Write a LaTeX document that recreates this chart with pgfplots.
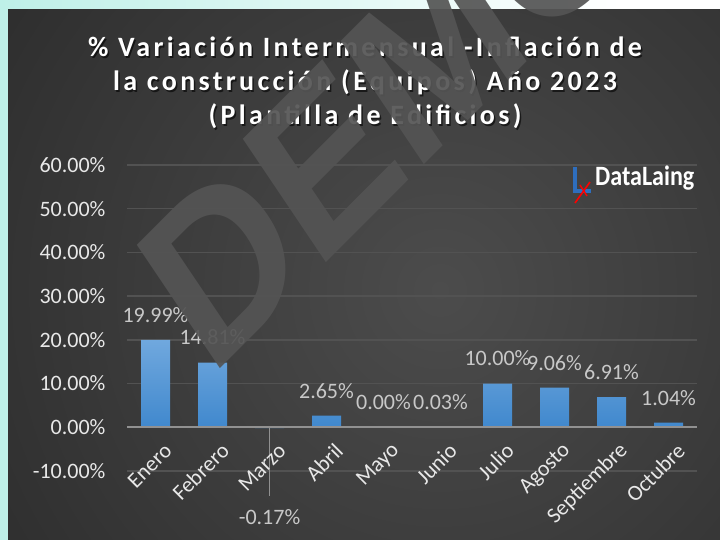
\documentclass[border=0pt]{standalone}
\usepackage{fontspec}
\setmainfont{Carlito}
\newfontfamily\wmfont{Liberation Sans}
\newfontfamily\titlefont[LetterSpace=12]{Carlito}
\usepackage{pgfplots}
\pgfplotsset{compat=1.18}

\definecolor{bgout}{RGB}{36,36,36}
\definecolor{bgin}{RGB}{76,76,76}
\definecolor{strip}{RGB}{190,240,232}
\definecolor{gridc}{RGB}{82,82,82}
\definecolor{zeroc}{RGB}{145,145,145}
\definecolor{tickc}{RGB}{232,232,232}
\definecolor{lblc}{RGB}{200,200,200}
\definecolor{bartop}{RGB}{112,168,222}
\definecolor{barbot}{RGB}{64,136,205}
\definecolor{wmc}{RGB}{84,84,84}
\definecolor{logoblue}{RGB}{46,110,190}

\newcommand{\lblfont}{\fontsize{22}{24}\selectfont}
\tikzset{catlbl/.style={rotate=45, anchor=east, font=\lblfont, text=tickc, xshift=-5pt, yshift=-23pt, inner sep=0pt}}

\begin{document}
\begin{tikzpicture}[x=1pt,y=1pt]
\useasboundingbox (0,0) rectangle (720,539);
\clip (0,0) rectangle (720,539);
% page background
\fill[white] (0,0) rectangle (720,539);
\shade[left color=strip, right color=white] (0,0) rectangle (620,539);
\begin{scope}
  \clip (8,0) rectangle (720,529);
  \fill[bgout] (8,0) rectangle (720,529);
  \shade[inner color=bgin, outer color=bgout] (440,249) circle (700);
\end{scope}

% title
\foreach \yy/\txt in {482/{\% Variación Intermensual -Inflación de},
                      448/{la construcción (Equipos) Año 2023},
                      414/{(Plantilla de Edificios)}}{
  \node[anchor=base, text=black, opacity=0.6, font=\titlefont\bfseries\fontsize{28}{30}\selectfont]
    at (366.5,\yy-1.5) {\txt};
  \node[anchor=base, text=white, font=\titlefont\bfseries\fontsize{28}{30}\selectfont]
    at (365,\yy) {\txt};
}

\begin{axis}[
  at={(127pt,68pt)}, anchor=south west,
  scale only axis, width=570pt, height=306pt,
  xmin=-0.5, xmax=9.5, ymin=-10, ymax=60,
  axis line style={draw=none}, tick style={draw=none},
  xtick=\empty,
  ytick={-10,0,10,20,30,40,50,60},
  ymajorgrids, grid style={gridc, line width=1.5pt},
  /pgf/number format/assume math mode=true,
  yticklabel={\pgfmathprintnumber[fixed,fixed zerofill,precision=2]{\tick}\%},
  yticklabel style={font=\lblfont, text=tickc, xshift=-18pt},
  clip=false,
]
% bars (Mayo = 0.00 has no visible bar)
\addplot[ybar, bar width=29pt, bar shift=0pt, draw=none,
  top color=bartop, bottom color=barbot] coordinates {
  (0,19.99) (1,14.81) (2,-0.17) (3,2.65) (5,0.03)
  (6,10.00) (7,9.06) (8,6.91) (9,1.04)
};
% data labels
\addplot[draw=none, mark=none, point meta=y,
  nodes near coords={\pgfmathprintnumber[fixed,fixed zerofill,precision=2]{\pgfplotspointmeta}\%},
  nodes near coords style={anchor=center, yshift=25pt, font=\lblfont, text=lblc}] coordinates {
  (0,19.99) (1,14.81) (3,2.65) (4,0.00) (5,0.03)
  (6,10.00) (7,9.06) (8,6.91) (9,1.04)
};
\draw[zeroc, line width=2pt] (axis cs:-0.5,0) -- (axis cs:9.5,0);
\draw[zeroc, line width=1.5pt] (axis cs:2,0) -- (axis cs:2,-15.8);
\node[font=\lblfont, text=lblc] at (axis cs:2,-20.6) {-0.17\%};
% category labels
\node[catlbl] at (axis cs:0,0) {Enero};
\node[catlbl] at (axis cs:1,0) {Febrero};
\node[catlbl] at (axis cs:2,0) {Marzo};
\node[catlbl] at (axis cs:3,0) {Abril};
\node[catlbl] at (axis cs:4,0) {Mayo};
\node[catlbl] at (axis cs:5,0) {Junio};
\node[catlbl] at (axis cs:6,0) {Julio};
\node[catlbl] at (axis cs:7,0) {Agosto};
\node[catlbl] at (axis cs:8,0) {Septiembre};
\node[catlbl] at (axis cs:9,0) {Octubre};
\end{axis}

% logo
\fill[logoblue] (573,346) rectangle (577,372);
\fill[logoblue] (573,346) rectangle (591,350);
\draw[red, line width=1.6pt] (575,336) -- (590,357);
\draw[red, line width=1.4pt] (580,354) -- (587,343);
\node[anchor=base west, inner sep=0pt, text=white, xscale=0.86,
  font=\bfseries\fontsize{28}{30}\selectfont] at (595,353) {DataLaing};

% watermark
\begin{scope}[xscale=0.82]
  \node[transform shape, rotate=39.4, anchor=base west, inner sep=0pt, text=wmc, opacity=0.92,
    font=\wmfont\bfseries\fontsize{232}{232}\selectfont] at (256,160) {DEMO};
\end{scope}
\end{tikzpicture}
\end{document}
